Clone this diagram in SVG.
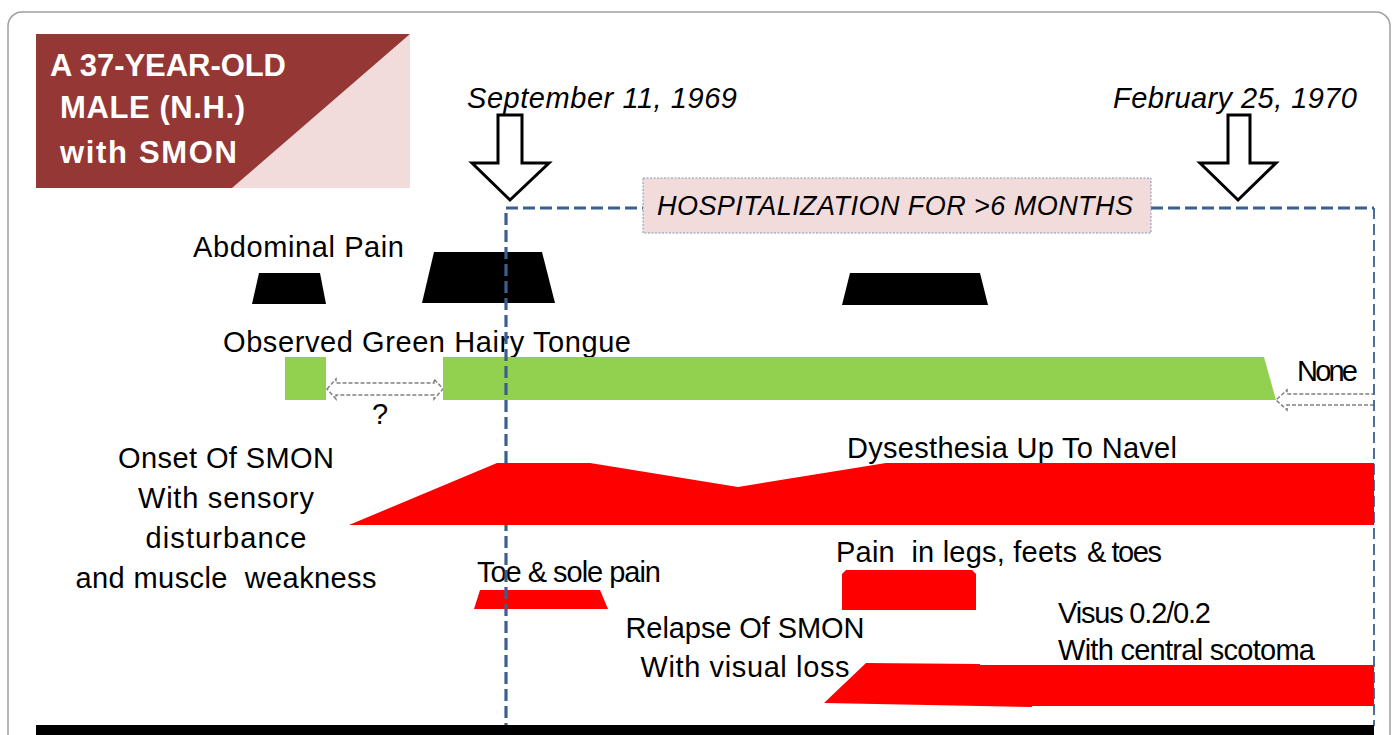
<svg xmlns="http://www.w3.org/2000/svg" width="1394" height="735" viewBox="0 0 1394 735">
<style>
.t{font-family:"Liberation Sans",Arial,sans-serif;fill:#000;font-size:29px;white-space:pre}
.ti{font-family:"Liberation Sans",Arial,sans-serif;font-style:italic;fill:#000;white-space:pre}
.hd{font-family:"Liberation Sans",Arial,sans-serif;font-weight:bold;fill:#fff;font-size:31px}
.blk{fill:#000}
.red{fill:#ff0000}
.grn{fill:#92d050}
.darr{fill:#fff;stroke:#000;stroke-width:3;stroke-linejoin:miter}
.gd{fill:#fff;stroke:#808080;stroke-width:1.5;stroke-dasharray:4 2}
.bl{fill:none;stroke:#3b5f8f;stroke-width:3.2;stroke-dasharray:12 5}
</style>
<rect x="0" y="0" width="1394" height="735" fill="#fff"/>
<rect x="8" y="12" width="1382" height="760" rx="14" fill="#fff" stroke="#a0a0a0" stroke-width="1.5"/>

<g id="title">
<polygon points="410,34 410,188 232,188" fill="#f2dcdb"/>
<polygon points="36,34 410,34 232,188 36,188" fill="#953735"/>
<text class="hd" x="50" y="76" textLength="236">A 37-YEAR-OLD</text>
<text class="hd" x="60" y="118" textLength="185">MALE (N.H.)</text>
<text class="hd" x="60" y="163" textLength="177">with SMON</text>
</g>

<g id="connectors">
<polygon class="darr" points="498,115 522,115 522,163 549,163 510,200 472,163 498,163"/>
<polygon class="darr" points="1228,115 1250,115 1250,163 1276,163 1238,200 1200,163 1228,163"/>
<polygon class="gd" points="327,389 336,379 336,383 434,383 434,379 443,389 434,399 434,395 336,395 336,399"/>
<polyline class="gd" fill="none" points="1374,405 1287,405 1287,410 1276,400 1287,390 1287,394 1374,394"/>
</g>

<g id="date-sep"><text class="ti" x="467" y="108" font-size="29" textLength="270">September 11, 1969</text></g>
<g id="date-feb"><text class="ti" x="1113" y="108" font-size="29" textLength="244">February 25, 1970</text></g>

<g id="abdominal-pain">
<text class="t" x="193" y="257" textLength="211">Abdominal Pain</text>
<polygon class="blk" points="259,273 320,273 326,304 252,304"/>
<polygon class="blk" points="434,252 542,252 555,303 422,303"/>
<polygon class="blk" points="850,273 980,273 988,305 842,305"/>
</g>

<g id="green-tongue">
<text class="t" x="223" y="352" textLength="408">Observed Green Hairy Tongue</text>
<rect class="grn" x="285" y="357" width="41" height="43"/>
<polygon class="grn" points="443,357 1264,357 1276,400 443,400"/>
<text class="t" x="372" y="424" font-size="24">?</text>
<text class="t" x="1297" y="381" font-size="22.5" textLength="61">None</text>
</g>

<g id="toe-pain">
<text class="t" x="477" y="582" font-size="24.5" textLength="184">Toe &amp; sole pain</text>
<polygon class="red" points="480,590 600,590 608,609 474,609"/>
</g>

<g id="legs-pain">
<text class="t" x="836" y="562" font-size="27.5" textLength="241">Pain  in legs, feets</text>
<text class="t" x="1087" y="562" font-size="24.5" textLength="75">&amp; toes</text>
<path class="red" d="M842,610 L842,574 L846,570 L972,570 L976,574 L976,610 Z"/>
</g>

<g id="visual-loss">
<text class="t" x="745" y="638" text-anchor="middle" textLength="239">Relapse Of SMON</text>
<text class="t" x="745" y="677" text-anchor="middle" textLength="209">With visual loss</text>
<text class="t" x="1058" y="623" font-size="23.5" textLength="153">Visus 0.2/0.2</text>
<text class="t" x="1058" y="660" font-size="25" textLength="257">With central scotoma</text>
<polygon class="red" points="824,703 866,663 980,664 980,665 1374,665 1374,706 1032,706 1032,707"/>
</g>

<g id="hospitalization">
<path class="bl" d="M506,735 L506,208 L643,208 M1151,208 L1374,208"/>
<path fill="none" stroke="#3b5f8f" stroke-width="1.8" stroke-dasharray="11 5" d="M1374,208 L1374,726"/>
<rect x="643" y="178" width="508" height="55" fill="#f2dcdb" stroke="#8497b0" stroke-width="1" stroke-dasharray="2 1.5"/>
<text class="ti" x="657" y="215" font-size="27" textLength="476">HOSPITALIZATION FOR &gt;6 MONTHS</text>
</g>

<g id="onset-smon">
<text class="t" x="226" y="468" text-anchor="middle" textLength="216">Onset Of SMON</text>
<text class="t" x="226" y="508" text-anchor="middle" textLength="176">With sensory</text>
<text class="t" x="226" y="548" text-anchor="middle" textLength="161">disturbance</text>
<text class="t" x="226" y="588" text-anchor="middle" textLength="301">and muscle  weakness</text>
<text class="t" x="847" y="458" textLength="330">Dysesthesia Up To Navel</text>
<polygon class="red" points="349,525 497,463 590,463 738,487 886,463 1374,463 1374,525"/>
</g>

<rect x="36" y="725" width="1338" height="10" fill="#000"/>
</svg>
